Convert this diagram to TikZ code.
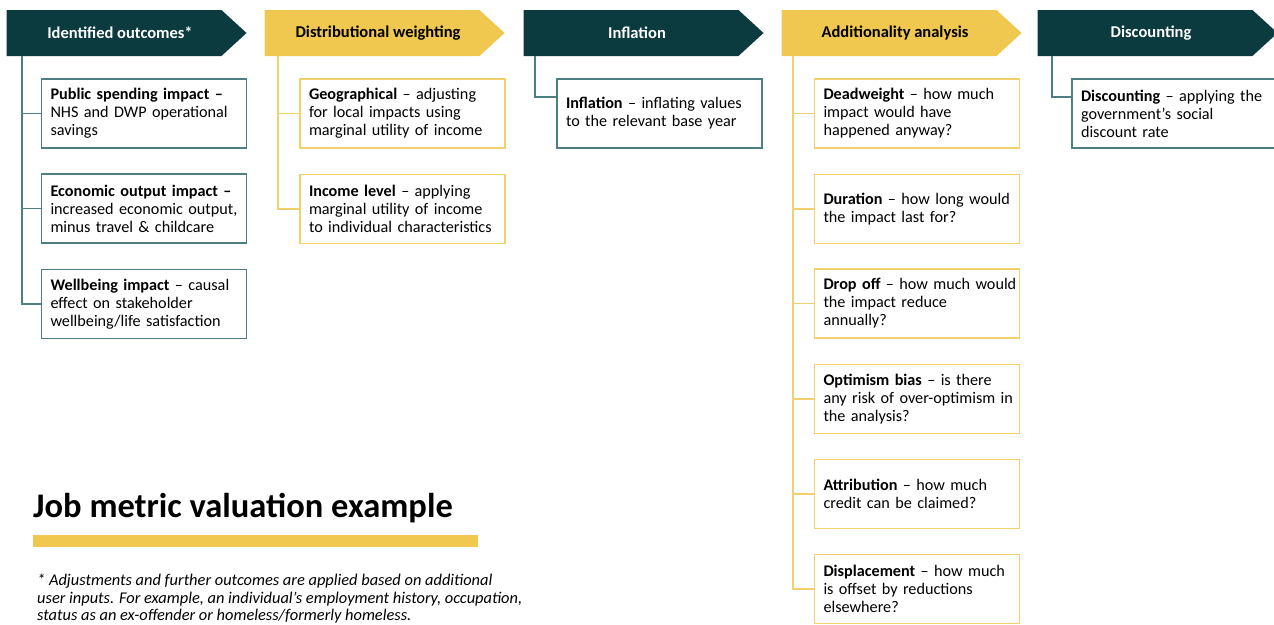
\documentclass[tikz,border=0pt]{standalone}
\usepackage{fontspec}
\setmainfont{Carlito}
\usetikzlibrary{shapes.symbols}

\definecolor{darkteal}{HTML}{0B3A3F}
\definecolor{gold}{HTML}{F0C84F}
\definecolor{tealline}{HTML}{4E7D82}
\definecolor{goldline}{HTML}{F3D06E}

\tikzset{
  stephead/.style={signal,signal to=east,signal pointer angle=85,
    minimum width=240,minimum height=46,inner sep=0,
    execute at begin node=\hspace*{12pt},
    font=\fontsize{16.5}{18}\selectfont\bfseries},
  itembox/.style={fill=white,line width=1.8,text width=187,inner xsep=9,
    minimum height=69,align=left,
    execute at begin node={\rightskip=-12pt plus 1fil\relax},
    font=\fontsize{16.2}{18}\selectfont}
}

\begin{document}
\begin{tikzpicture}[x=1pt,y=-1pt]
  \useasboundingbox (0,0) rectangle (1274,624);

  % step headers
  \begin{scope}[every node/.style=stephead]
    \node[fill=darkteal,text=white] (h1) at (114,33)  {Identified outcomes*};
    \node[fill=gold]                (h2) at (372,33)  {Distributional weighting};
    \node[fill=darkteal,text=white] (h3) at (631,33)  {Inflation};
    \node[fill=gold]                (h4) at (889,33)  {Additionality analysis};
    \node[fill=darkteal,text=white] (h5) at (1145,33) {Discounting};
  \end{scope}

  % teal boxes
  \begin{scope}[every node/.style={itembox,draw=tealline}]
    \node (o1) at (144,113.5) {\textbf{Public spending impact –}\\NHS and DWP operational\\savings};
    \node (o2) at (144,208.5) {\textbf{Economic output impact –}\\increased economic output,\\minus travel \& childcare};
    \node (o3) at (144,304)   {\textbf{Wellbeing impact} – causal\\effect on stakeholder\\wellbeing/life satisfaction};
    \node (i1) at (659.5,113.5) {\textbf{Inflation} – inflating values\\to the relevant base year};
    \node (s1) at (1174.5,113.5) {\textbf{Discounting} – applying the\\government’s social\\discount rate};
  \end{scope}

  % gold boxes
  \begin{scope}[every node/.style={itembox,draw=goldline}]
    \node (d1) at (402.5,113.5) {\textbf{Geographical} – adjusting\\for local impacts using\\marginal utility of income};
    \node (d2) at (402.5,209)   {\textbf{Income level} – applying\\marginal utility of income\\to individual characteristics};
    \node (a1) at (917,113.5) {\textbf{Deadweight} – how much\\impact would have\\happened anyway?};
    \node (a2) at (917,209)   {\textbf{Duration} – how long would\\the impact last for?};
    \node (a3) at (917,303.5) {\textbf{Drop off} – how much would\\the impact reduce\\annually?};
    \node (a4) at (917,399)   {\textbf{Optimism bias} – is there\\any risk of over-optimism in\\the analysis?};
    \node (a5) at (917,494)   {\textbf{Attribution} – how much\\credit can be claimed?};
    \node (a6) at (917,589)   {\textbf{Displacement} – how much\\is offset by reductions\\elsewhere?};
  \end{scope}

  % connectors
  \coordinate (t1) at (22,56);
  \coordinate (t2) at (278,56);
  \coordinate (t3) at (535,56);
  \coordinate (t4) at (793,56);
  \coordinate (t5) at (1052,56);

  \begin{scope}[draw=tealline,line width=1.8]
    \draw (t1) |- (o3.west);
    \draw (t1 |- o1.west) -- (o1.west);
    \draw (t1 |- o2.west) -- (o2.west);
    \draw (t3) |- ([yshift=16.5pt]i1.west);
    \draw (t5) |- ([yshift=16.5pt]s1.west);
  \end{scope}

  \begin{scope}[draw=goldline,line width=1.8]
    \draw (t2) |- (d2.west);
    \draw (t2 |- d1.west) -- (d1.west);
    \draw (t4) |- (a6.west);
    \foreach \n in {a1,a2,a3,a4,a5}
      \draw (t4 |- \n.west) -- (\n.west);
  \end{scope}

  % title and note
  \node[anchor=base west,inner sep=0,font=\fontsize{34.5}{40}\selectfont\bfseries]
    (title) at (33,517) {Job metric valuation example};
  \fill[gold] (33,535) rectangle (478,547);
  \node[anchor=north west,align=left,inner sep=0,font=\fontsize{16.4}{17.2}\selectfont\itshape]
    (note) at (37,574) {* Adjustments and further outcomes are applied based on additional\\
      user inputs. For example, an individual’s employment history, occupation,\\
      status as an ex-offender or homeless/formerly homeless.};
\end{tikzpicture}
\end{document}
